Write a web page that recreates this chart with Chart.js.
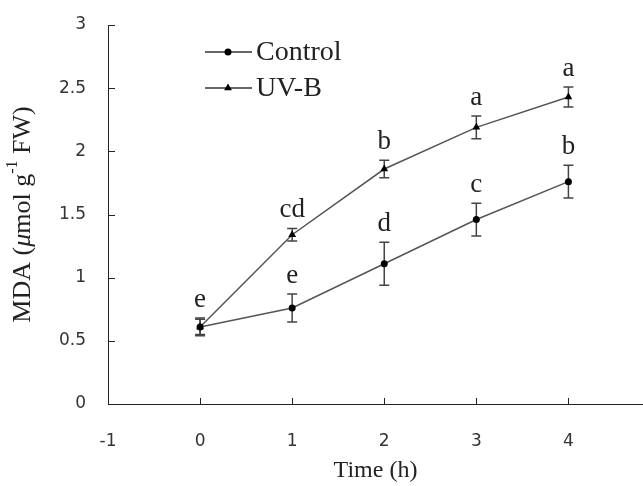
<!DOCTYPE html>
<html>
<head>
<meta charset="utf-8">
<script src="https://cdn.jsdelivr.net/npm/chart.js@4.4.1/dist/chart.umd.min.js"></script>
<style>
html, body { margin: 0; padding: 0; background: #fff; overflow: hidden; }
canvas { display: block; }
</style>
</head>
<body>
<canvas id="myChart" width="643" height="486"></canvas>
<script>
const times = [0, 1, 2, 3, 4];
const controlMean = [0.61, 0.76, 1.11, 1.46, 1.76];
const controlErr = [0.07, 0.11, 0.17, 0.13, 0.13];
const uvbMean = [0.61, 1.34, 1.86, 2.19, 2.43];
const uvbErr = [0.06, 0.05, 0.07, 0.09, 0.08];
const controlLetters = ['e', 'e', 'd', 'c', 'b'];
const uvbLetters = ['', 'cd', 'b', 'a', 'a'];

const serif = '"Liberation Serif", "Times New Roman", serif';
const sans = '"DejaVu Sans", sans-serif';

const toPoints = (ys) => times.map((t, i) => ({ x: t, y: ys[i] }));

// error bars + significance letters
const errorBars = {
    id: 'errorBars',
    beforeDatasetsDraw(chart) {
        const { ctx, scales: { x, y } } = chart;
        const sets = [[controlMean, controlErr], [uvbMean, uvbErr]];
        ctx.save();
        ctx.strokeStyle = '#444';
        ctx.lineWidth = 1.5;
        sets.forEach(([m, e]) => {
            times.forEach((t, i) => {
                const px = x.getPixelForValue(t);
                const top = y.getPixelForValue(m[i] + e[i]);
                const bot = y.getPixelForValue(m[i] - e[i]);
                ctx.beginPath();
                ctx.moveTo(px, top); ctx.lineTo(px, bot);
                ctx.moveTo(px - 5, top); ctx.lineTo(px + 5, top);
                ctx.moveTo(px - 5, bot); ctx.lineTo(px + 5, bot);
                ctx.stroke();
            });
        });
        ctx.restore();
    },
    afterDatasetsDraw(chart) {
        const { ctx, scales: { x, y } } = chart;
        ctx.save();
        ctx.fillStyle = '#222';
        ctx.font = '27px ' + serif;
        ctx.textAlign = 'center';
        ctx.textBaseline = 'alphabetic';
        const put = (m, e, letters) => {
            times.forEach((t, i) => {
                if (!letters[i]) return;
                const px = x.getPixelForValue(t);
                const top = y.getPixelForValue(m[i] + e[i]);
                ctx.fillText(letters[i], px, top - 11);
            });
        };
        put(controlMean, controlErr, controlLetters);
        put(uvbMean, uvbErr, uvbLetters);
        ctx.restore();
    }
};

// inward tick marks, legend and y title
const extras = {
    id: 'extras',
    afterDraw(chart) {
        const { ctx, chartArea: a, scales: { x, y } } = chart;
        ctx.save();
        ctx.strokeStyle = '#222';
        ctx.lineWidth = 1;
        ctx.beginPath();
        y.ticks.forEach(t => {
            const py = Math.round(y.getPixelForValue(t.value)) + 0.5;
            ctx.moveTo(a.left, py); ctx.lineTo(a.left + 7, py);
        });
        x.ticks.forEach(t => {
            const px = Math.round(x.getPixelForValue(t.value)) + 0.5;
            ctx.moveTo(px, a.bottom); ctx.lineTo(px, a.bottom - 6);
        });
        ctx.stroke();

        // legend
        const items = [
            { label: 'Control', y: 52, style: 'circle' },
            { label: 'UV-B', y: 88, style: 'triangle' }
        ];
        items.forEach(it => {
            ctx.strokeStyle = '#333';
            ctx.lineWidth = 1.5;
            ctx.beginPath();
            ctx.moveTo(205, it.y); ctx.lineTo(252, it.y);
            ctx.stroke();
            ctx.fillStyle = '#000';
            Chart.helpers.drawPoint(ctx, { pointStyle: it.style, radius: it.style === 'circle' ? 3.5 : 4.5, borderWidth: 0 }, 228, it.y);
            ctx.fillStyle = '#222';
            ctx.font = '28px ' + serif;
            ctx.textAlign = 'left';
            ctx.textBaseline = 'middle';
            ctx.fillText(it.label, 256, it.y + 1);
        });

        // y axis title with italic mu and superscript
        const parts = [
            { t: 'MDA (', f: '26px ' + serif, dy: 0 },
            { t: 'μ', f: 'italic 26px ' + serif, dy: 0 },
            { t: 'mol g', f: '26px ' + serif, dy: 0 },
            { t: '-1', f: '16px ' + serif, dy: -10 },
            { t: ' FW)', f: '26px ' + serif, dy: 0 }
        ];
        let total = 0;
        parts.forEach(p => { ctx.font = p.f; p.w = ctx.measureText(p.t).width; total += p.w; });
        ctx.translate(23, (a.top + a.bottom) / 2);
        ctx.rotate(-Math.PI / 2);
        ctx.textAlign = 'left';
        ctx.textBaseline = 'middle';
        ctx.fillStyle = '#222';
        let cx = -total / 2;
        parts.forEach(p => {
            ctx.font = p.f;
            ctx.fillText(p.t, cx, p.dy);
            cx += p.w;
        });
        ctx.restore();
    }
};

const ctx = document.getElementById('myChart').getContext('2d');

const data = {
    datasets: [{
        label: 'Control',
        data: toPoints(controlMean),
        borderColor: '#555',
        backgroundColor: '#000',
        borderWidth: 1.5,
        pointStyle: 'circle',
        pointRadius: 3.5,
        pointBorderWidth: 0,
        pointBackgroundColor: '#000',
        tension: 0
    }, {
        label: 'UV-B',
        data: toPoints(uvbMean),
        borderColor: '#555',
        backgroundColor: '#000',
        borderWidth: 1.5,
        pointStyle: 'triangle',
        pointRadius: 4.5,
        pointBorderWidth: 0,
        pointBackgroundColor: '#000',
        tension: 0
    }]
};

const config = {
    type: 'line',
    data: data,
    options: {
        responsive: false,
        animation: false,
        layout: { autoPadding: false, padding: { top: 25, left: 0, right: 0, bottom: 0 } },
        scales: {
            x: {
                type: 'linear',
                min: -1,
                max: 4.81,
                afterBuildTicks: s => { s.ticks = s.ticks.filter(t => Number.isInteger(t.value)); },
                afterFit: s => { s.height = 82; s.paddingLeft = 0; s.paddingRight = 0; },
                grid: { display: false, drawTicks: false },
                border: { display: true, color: '#222', width: 1 },
                ticks: { stepSize: 1, padding: 27, color: '#333', font: { family: sans, size: 17 } },
                title: {
                    display: true,
                    text: 'Time (h)',
                    color: '#222',
                    font: { family: serif, size: 24 },
                    padding: { top: 0, bottom: 1 }
                }
            },
            y: {
                min: 0,
                max: 3,
                afterFit: s => { s.width = 108; s.paddingTop = 0; s.paddingBottom = 0; },
                grid: { display: false, drawTicks: false },
                border: { display: true, color: '#222', width: 1 },
                ticks: {
                    stepSize: 0.5,
                    padding: 22,
                    color: '#333',
                    font: { family: sans, size: 17 },
                    callback: v => String(+v.toFixed(1))
                }
            }
        },
        plugins: {
            legend: { display: false },
            tooltip: { enabled: false }
        }
    },
    plugins: [errorBars, extras]
};

const myChart = new Chart(ctx, config);
</script>
</body>
</html>
